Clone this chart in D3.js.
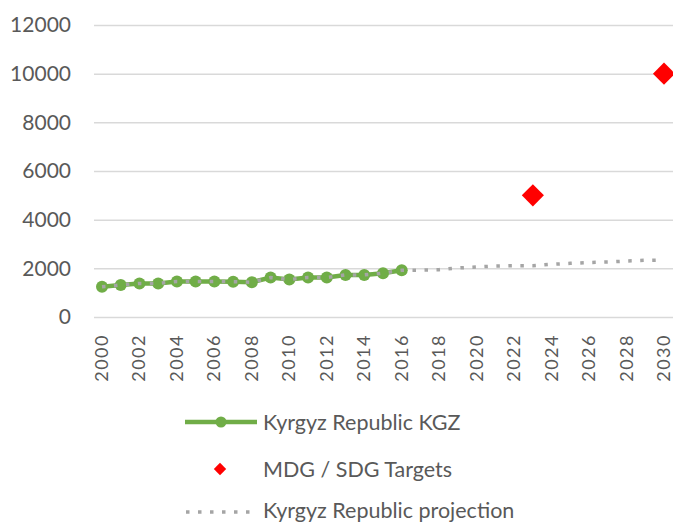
<!DOCTYPE html>
<html>
<head>
<meta charset="utf-8">
<script src="https://cdn.jsdelivr.net/npm/d3@7"></script>
<style>
  html, body { margin: 0; padding: 0; background: #fff; }
  svg { display: block; font-family: Lato, "Open Sans", sans-serif; }
</style>
</head>
<body>
<svg id="chart" width="673" height="523"></svg>
<script>
// ---- data ----
const years = d3.range(2000, 2031);
const kgzYears = d3.range(2000, 2017);
const kgzValues = [1245, 1313, 1380, 1380, 1460, 1460, 1460, 1450, 1430, 1620, 1540, 1625, 1625, 1730, 1730, 1800, 1920];
const projYears = d3.range(2017, 2031);
const projValues = [1925, 1945, 2014, 2055, 2096, 2110, 2110, 2164, 2205, 2240, 2260, 2300, 2330, 2340];
const targetYears = [2023, 2030];
const targetValues = [5000, 10000];
const yTicks = [0, 2000, 4000, 6000, 8000, 10000, 12000];
const xTickYears = d3.range(2000, 2031, 2);
const legendLabels = ["Kyrgyz Republic KGZ", "MDG / SDG Targets", "Kyrgyz Republic projection"];

// ---- style ----
const green = "#70AD47", red = "#FF0000", gray = "#A5A5A5", textCol = "#595959", gridCol = "#D9D9D9";

const svg = d3.select("#chart");
const x = d3.scalePoint().domain(years).range([102, 664]);
const y = d3.scaleLinear().domain([0, 12000]).range([317, 25]);

// gridlines + y labels
const yAxis = d3.axisLeft(y).tickValues(yTicks).tickSize(-(673 - 94)).tickPadding(23).tickFormat(d3.format("d"));
const gy = svg.append("g").attr("transform", "translate(94,0)").call(yAxis);
gy.select(".domain").remove();
gy.selectAll(".tick line").attr("stroke", gridCol).attr("stroke-width", 1.5);
gy.selectAll(".tick text").attr("fill", textCol).attr("font-size", 21).attr("font-family", "Lato, sans-serif");

// x labels (rotated)
const xAxis = d3.axisBottom(x).tickValues(xTickYears).tickSize(0).tickPadding(0);
const gx = svg.append("g").attr("transform", "translate(0,317)").call(xAxis);
gx.select(".domain").remove();
gx.selectAll(".tick text")
  .attr("fill", textCol).attr("font-size", 18).attr("font-family", "Lato, sans-serif")
  .attr("letter-spacing", 1.5)
  .attr("transform", "rotate(-90)")
  .attr("text-anchor", "end")
  .attr("x", -17).attr("y", -1).attr("dy", "0.36em");

// green series
const kgz = kgzYears.map((yr, i) => ({ yr, v: kgzValues[i] }));
const line = d3.line().x(d => x(d.yr)).y(d => y(d.v));
svg.append("path").datum(kgz).attr("d", line)
  .attr("fill", "none").attr("stroke", green).attr("stroke-width", 4.5);
svg.append("g").selectAll("circle").data(kgz).join("circle")
  .attr("cx", d => x(d.yr)).attr("cy", d => y(d.v)).attr("r", 6).attr("fill", green);

// projection (full series incl. history)
const proj = kgz.concat(projYears.map((yr, i) => ({ yr, v: projValues[i] })));
svg.append("path").datum(proj).attr("d", line)
  .attr("fill", "none").attr("stroke", gray).attr("stroke-width", 3.5)
  .attr("stroke-dasharray", "3.5,8.5");

// targets
const sym = d3.symbol().type(d3.symbolDiamond2).size(2 * 12.5 * 12.5);
svg.append("g").selectAll("path").data(targetYears.map((yr, i) => ({ yr, v: targetValues[i] }))).join("path")
  .attr("d", sym).attr("transform", d => `translate(${x(d.yr)},${y(d.v)})`).attr("fill", red);

// legend
const lg = svg.append("g");
const rows = [422, 469, 510];
lg.append("line").attr("x1", 185).attr("x2", 257).attr("y1", rows[0]).attr("y2", rows[0])
  .attr("stroke", green).attr("stroke-width", 4.5);
lg.append("circle").attr("cx", 221).attr("cy", rows[0]).attr("r", 5.5).attr("fill", green);
lg.append("path").attr("d", d3.symbol().type(d3.symbolDiamond2).size(2 * 7 * 7))
  .attr("transform", `translate(220,${rows[1]})`).attr("fill", red);
lg.append("line").attr("x1", 186).attr("x2", 252).attr("y1", rows[2] + 2).attr("y2", rows[2] + 2)
  .attr("stroke", gray).attr("stroke-width", 3.5).attr("stroke-dasharray", "3.5,8.5");
lg.selectAll("text").data(legendLabels).join("text")
  .attr("x", 263).attr("y", (d, i) => rows[i]).attr("dy", "0.36em")
  .attr("fill", textCol).attr("font-size", 21.5).text(d => d);
</script>
</body>
</html>
